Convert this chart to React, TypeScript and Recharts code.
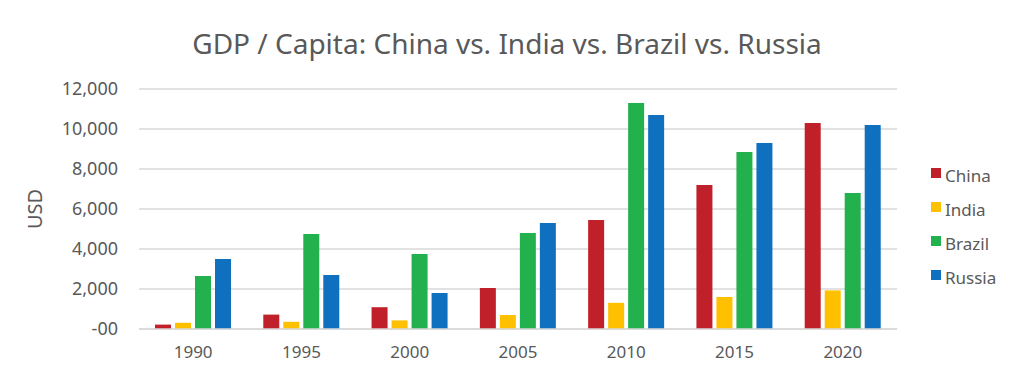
import React from 'react';
import { BarChart, Bar, XAxis, YAxis, CartesianGrid, Label } from 'recharts';

const years = ['1990', '1995', '2000', '2005', '2010', '2015', '2020'];
const china = [220, 720, 1090, 2050, 5450, 7200, 10300];
const india = [310, 360, 430, 700, 1310, 1600, 1930];
const brazil = [2650, 4750, 3750, 4800, 11300, 8850, 6800];
const russia = [3500, 2700, 1800, 5300, 10700, 9300, 10200];
const yTicks = [0, 2000, 4000, 6000, 8000, 10000, 12000];

const seriesNames = ['China', 'India', 'Brazil', 'Russia'];
const seriesColors = ['#C0202A', '#FFC000', '#22B14C', '#1070C0'];
const seriesValues = [china, india, brazil, russia];

const data = years.map((y, i) => {
  const row: Record<string, string | number> = { year: y };
  seriesNames.forEach((n, k) => {
    row[n] = seriesValues[k][i];
  });
  return row;
});

const FONT = '"Noto Sans", sans-serif';
const GREY = '#595959';

const fmt = (v: number) => (v === 0 ? '-00' : v.toLocaleString('en-US'));

export default function App() {
  return (
    <div style={{ position: 'absolute', left: 0, top: 0, width: 1024, height: 384, background: '#fff', fontFamily: FONT }}>
      <div
        style={{
          position: 'absolute',
          left: 0,
          top: 24,
          width: 1014,
          textAlign: 'center',
          fontSize: 28,
          color: GREY,
          lineHeight: '38px',
        }}
      >
        GDP / Capita: China vs. India vs. Brazil vs. Russia
      </div>
      <BarChart
        width={1024}
        height={384}
        data={data}
        margin={{ top: 89, right: 127, bottom: 25, left: 0 }}
        barCategoryGap={16}
        barGap={4}
      >
        <CartesianGrid vertical={false} stroke="#D9D9D9" strokeWidth={1.5} />
        <XAxis
          dataKey="year"
          height={30}
          axisLine={{ stroke: '#D9D9D9', strokeWidth: 1.5 }}
          tickLine={false}
          tickSize={0}
          tickMargin={17}
          tick={{ fill: GREY, fontSize: 17, fontFamily: FONT }}
        />
        <YAxis
          width={139}
          domain={[0, 12000]}
          ticks={yTicks}
          interval={0}
          axisLine={false}
          tickLine={false}
          tickSize={0}
          tickMargin={21}
          tickFormatter={fmt}
          tick={{ fill: GREY, fontSize: 18, fontFamily: FONT }}
        >
          <Label
            value="USD"
            angle={-90}
            position="insideLeft"
            offset={35}
            style={{ fill: GREY, fontSize: 20, fontFamily: FONT, textAnchor: 'middle' }}
          />
        </YAxis>
        {seriesNames.map((n, k) => (
          <Bar key={n} dataKey={n} fill={seriesColors[k]} isAnimationActive={false} />
        ))}
      </BarChart>
      <div style={{ position: 'absolute', left: 931, top: 158 }}>
        {seriesNames.map((n, k) => (
          <div key={n} style={{ display: 'flex', alignItems: 'center', height: 34, fontSize: 17, color: GREY }}>
            <span style={{ display: 'inline-block', width: 10, height: 10, background: seriesColors[k], marginRight: 4, marginTop: -4 }} />
            <span>{n}</span>
          </div>
        ))}
      </div>
    </div>
  );
}
